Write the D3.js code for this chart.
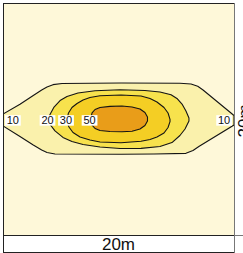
<!DOCTYPE html>
<html>
<head>
<meta charset="utf-8">
<script src="https://cdn.jsdelivr.net/npm/d3@7"></script>
<style>
  html, body { margin: 0; padding: 0; background: #fff; }
  svg { display: block; }
  text { font-family: "Liberation Sans", Arial, sans-serif; }
</style>
</head>
<body>
<div id="chart"></div>
<script>
// 20m x 20m area, isolines (x, y in metres, y down)
const levels = [10, 20, 30, 50];

const iso10 = [[0, 9.57], [1.47, 8.73], [2.62, 7.97], [3.35, 7.5], [3.81, 7.24], [4.33, 7.04],
  [5.11, 6.94], [10.22, 6.9], [15.32, 6.92], [16.28, 6.98], [16.86, 7.18], [17.32, 7.5],
  [19.74, 9.48], [20, 9.7], [20, 10.52], [16.99, 12.35], [16.45, 12.72], [15.84, 12.96],
  [13.07, 13.02], [10.22, 13.04], [4.5, 13.02], [3.81, 12.89], [3.35, 12.67], [2.62, 12.24],
  [1.47, 11.51], [0, 10.6]];

const iso20 = [[3.94, 10.04], [4.07, 9.61], [4.42, 8.97], [4.94, 8.41], [5.54, 8.06], [6.49, 7.76],
  [7.97, 7.57], [10.13, 7.48], [12.29, 7.54], [13.59, 7.67], [14.55, 7.91], [15.06, 8.23],
  [15.5, 8.71], [15.84, 9.31], [16.1, 9.91], [16.1, 10.17], [15.76, 10.86], [15.32, 11.42],
  [14.63, 12.03], [13.59, 12.37], [11.95, 12.53], [10.13, 12.54], [8.4, 12.41], [6.93, 12.2],
  [5.97, 11.94], [5.19, 11.59], [4.5, 11.03], [4.07, 10.47]];

const iso30 = [[5.54, 10.04], [5.67, 9.48], [5.97, 9.01], [6.41, 8.66], [6.93, 8.36], [7.53, 8.15],
  [8.4, 8.0], [10.22, 7.93], [11.95, 8.02], [12.73, 8.23], [13.33, 8.53], [13.94, 9.01],
  [14.29, 9.48], [14.46, 10.04], [14.46, 10.22], [14.29, 10.73], [13.94, 11.21], [13.33, 11.55],
  [12.73, 11.77], [11.95, 11.92], [10.22, 12.05], [8.4, 11.98], [7.53, 11.81], [6.67, 11.55],
  [6.06, 11.16], [5.71, 10.69], [5.58, 10.34]];

const iso50 = [[7.58, 10.04], [7.71, 9.48], [7.97, 9.18], [8.4, 9.01], [9.26, 8.91], [10.3, 8.88],
  [11.17, 8.97], [11.86, 9.14], [12.29, 9.44], [12.51, 9.83], [12.51, 10.17], [12.29, 10.56],
  [11.86, 10.86], [11.17, 11.06], [10.3, 11.1], [9.26, 11.08], [8.4, 10.99], [7.97, 10.82],
  [7.71, 10.52]];

const labelLevels = [10, 20, 30, 50, 10];
const labelSides = ["left", "left", "left", "left", "right"];
const labelRow = 10.1;   // metres, row where the labels sit
const scaleLabel = "20m";

const isolines = [iso10, iso20, iso30, iso50];

var width = 243, height = 253;
var margin = {top: 3, right: 9, bottom: 18, left: 3};

var svg = d3.select("#chart").append("svg")
    .attr("width", width)
    .attr("height", height);

var x = d3.scaleLinear().domain([0, 20]).range([margin.left, width - margin.right]);
var y = d3.scaleLinear().domain([0, 20]).range([margin.top, height - margin.bottom]);

var color = d3.scaleThreshold()
    .domain(levels)
    .range(["#fef8d9", "#faf1ac", "#f7e24d", "#f4ce24", "#e99d19"]);

svg.append("clipPath").attr("id", "plotclip")
  .append("rect")
    .attr("x", x(0)).attr("y", y(0))
    .attr("width", x(20) - x(0)).attr("height", y(20) - y(0));

// background (below lowest level)
svg.append("rect")
    .attr("x", x(0)).attr("y", y(0))
    .attr("width", x(20) - x(0)).attr("height", y(20) - y(0))
    .attr("fill", color(0));

var line = d3.line()
    .x(function(d) { return x(d[0]); })
    .y(function(d) { return y(d[1]); })
    .curve(d3.curveLinearClosed);

svg.append("g")
    .attr("clip-path", "url(#plotclip)")
  .selectAll("path")
  .data(isolines)
  .enter().append("path")
    .attr("d", line)
    .attr("fill", function(d, i) { return color(levels[i]); })
    .attr("stroke", "#141414")
    .attr("stroke-width", 1.1)
    .attr("stroke-linejoin", "round");

// frame of the plot
svg.append("rect")
    .attr("x", x(0) + 0.5).attr("y", y(0) + 0.5)
    .attr("width", x(20) - x(0)).attr("height", y(20) - y(0))
    .attr("fill", "none")
    .attr("stroke", "#222");

// contour labels on the middle row
var labels = labelLevels.map(function(lv, i) {
    var pts = isolines[levels.indexOf(lv)];
    var p = labelSides[i] == "left"
        ? d3.least(pts, function(d) { return d[0]; })
        : d3.greatest(pts, function(d) { return d[0]; });
    return {level: lv, cx: x(p[0]), cy: y(labelRow)};
});

var lab = svg.append("g").selectAll("g")
    .data(labels)
    .enter().append("g");

lab.append("text")
    .attr("font-size", 11)
    .attr("text-anchor", "middle")
    .attr("fill", "#111")
    .text(function(d) { return d.level; })
    .each(function(d) {
        var w = this.getComputedTextLength() + 3.5;
        var cx = Math.max(x(0) + 2 + w / 2, Math.min(x(20) - 2 - w / 2, d.cx - 1));
        d.w = w; d.cx = cx;
        d3.select(this).attr("x", cx).attr("y", d.cy + 4.2);
    });

lab.insert("rect", "text")
    .attr("x", function(d) { return d.cx - d.w / 2; })
    .attr("y", function(d) { return d.cy - 5; })
    .attr("width", function(d) { return d.w; })
    .attr("height", 10.5)
    .attr("fill", "#fff");

// scale bars
svg.append("rect")
    .attr("x", x(0) + 0.5).attr("y", y(20) + 0.5)
    .attr("width", x(20) - x(0)).attr("height", 17)
    .attr("fill", "#fff")
    .attr("stroke", "#222");

svg.append("text")
    .attr("x", (x(0) + x(20)) / 2)
    .attr("y", y(20) + 15)
    .attr("text-anchor", "middle")
    .attr("font-size", 17)
    .attr("fill", "#111")
    .text(scaleLabel);

svg.append("line")
    .attr("x1", x(20) + 0.5).attr("x2", x(20) + 0.5)
    .attr("y1", y(0)).attr("y2", height)
    .attr("stroke", "#777");
svg.append("line")
    .attr("x1", x(20)).attr("x2", width)
    .attr("y1", y(20) + 0.5).attr("y2", y(20) + 0.5)
    .attr("stroke", "#777");

// vertical scale bar label, cut by the window edge as in the original
svg.append("text")
    .attr("transform", "translate(" + (x(20) + 16) + "," + ((y(0) + y(20)) / 2 + 2) + ") rotate(-90)")
    .attr("text-anchor", "middle")
    .attr("font-size", 17)
    .attr("fill", "#111")
    .text(scaleLabel);
</script>
</body>
</html>
